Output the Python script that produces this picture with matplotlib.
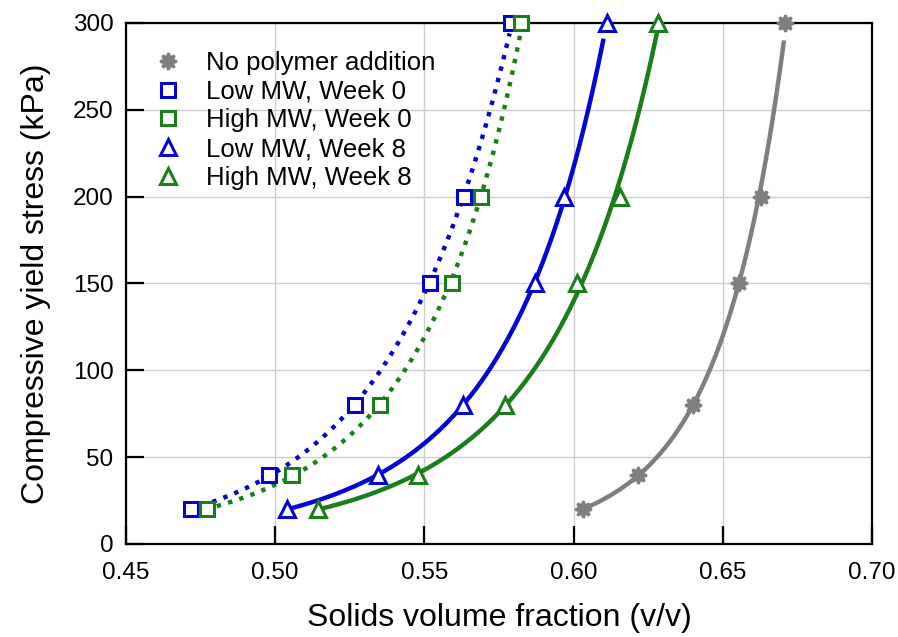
import numpy as np
import matplotlib
matplotlib.use("Agg")
import matplotlib.pyplot as plt

plt.rcParams["font.family"] = ["Liberation Sans", "DejaVu Sans"]

# Compressive yield stress (kPa) at each measured solids volume fraction
stress = [20, 40, 80, 150, 200, 300]

phi_none = [0.6032, 0.6216, 0.6400, 0.6554, 0.6628, 0.6708]
phi_low_w0 = [0.4718, 0.4980, 0.5267, 0.5519, 0.5633, 0.5790]
phi_high_w0 = [0.4771, 0.5056, 0.5350, 0.5593, 0.5690, 0.5824]
phi_low_w8 = [0.5040, 0.5345, 0.5630, 0.5870, 0.5968, 0.6112]
phi_high_w8 = [0.5143, 0.5480, 0.5770, 0.6011, 0.6155, 0.6283]

labels = [
    "No polymer addition",
    "Low MW, Week 0",
    "High MW, Week 0",
    "Low MW, Week 8",
    "High MW, Week 8",
]

BLUE = "#0505d2"
GREEN = "#1a7f1a"
GRAY = "#7f7f7f"

series = [
    # (phi, colour, marker, linestyle, top of fitted curve)
    (phi_none, GRAY, (8, 1, 0), "-", 290),
    (phi_low_w0, BLUE, "s", ":", 294),
    (phi_high_w0, GREEN, "s", ":", 294),
    (phi_low_w8, BLUE, "^", "-", 291),
    (phi_high_w8, GREEN, "^", "-", 300),
]


def fit_curve(phi, y, y_top):
    # smooth fit: phi as a quadratic in ln(stress)
    ly = np.log(y)
    coef = np.polyfit(ly, phi, 2)
    ys = np.linspace(min(y), y_top, 200)
    return np.polyval(coef, np.log(ys)), ys


fig = plt.figure(figsize=(8.98, 6.37), dpi=100)
ax = fig.add_axes([0.1403, 0.1460, 0.9710 - 0.1403, 0.9639 - 0.1460])

handles = []
for (phi, color, marker, ls, top), label in zip(series, labels):
    xs, ys = fit_curve(np.array(phi), np.array(stress, dtype=float), top)
    ax.plot(xs, ys, color=color, linestyle=ls, linewidth=3.2,
            dash_capstyle="butt", solid_capstyle="butt", zorder=3)
    if marker == (8, 1, 0):
        h, = ax.plot(phi, stress, linestyle="none", marker=marker,
                     markersize=12, markerfacecolor=color,
                     markeredgecolor=color, markeredgewidth=2.0,
                     clip_on=False, zorder=4, label=label)
    else:
        ms = 10 if marker == "s" else 12
        h, = ax.plot(phi, stress, linestyle="none", marker=marker,
                     markersize=ms, markerfacecolor="white",
                     markeredgecolor=color, markeredgewidth=2.2,
                     clip_on=False, zorder=4, label=label)
    handles.append(h)

ax.set_xlim(0.45, 0.70)
ax.set_ylim(0, 300)
ax.set_xticks(np.arange(0.45, 0.701, 0.05))
ax.set_yticks(np.arange(0, 301, 50))
ax.set_xticklabels([f"{v:.2f}" for v in np.arange(0.45, 0.701, 0.05)])

ax.grid(True, color="#cccccc", linewidth=1.0, zorder=0)
ax.set_axisbelow(True)
for sp in ax.spines.values():
    sp.set_linewidth(1.6)
    sp.set_color("black")
ax.tick_params(direction="in", length=13, width=1.6, labelsize=17.5,
               top=False, right=False)
ax.tick_params(axis="x", pad=13)
ax.tick_params(axis="y", pad=9)

ax.set_xlabel("Solids volume fraction (v/v)", fontsize=23, labelpad=14)
ax.set_ylabel("Compressive yield stress (kPa)", fontsize=23, labelpad=16)

leg = ax.legend(handles=handles, loc="upper left",
                bbox_to_anchor=(0.039, 0.946), frameon=False,
                fontsize=18.5, handlelength=1.0, handletextpad=1.0,
                labelspacing=0.18, borderaxespad=0.0, borderpad=0.0)

fig.savefig("out.png", dpi=100)
